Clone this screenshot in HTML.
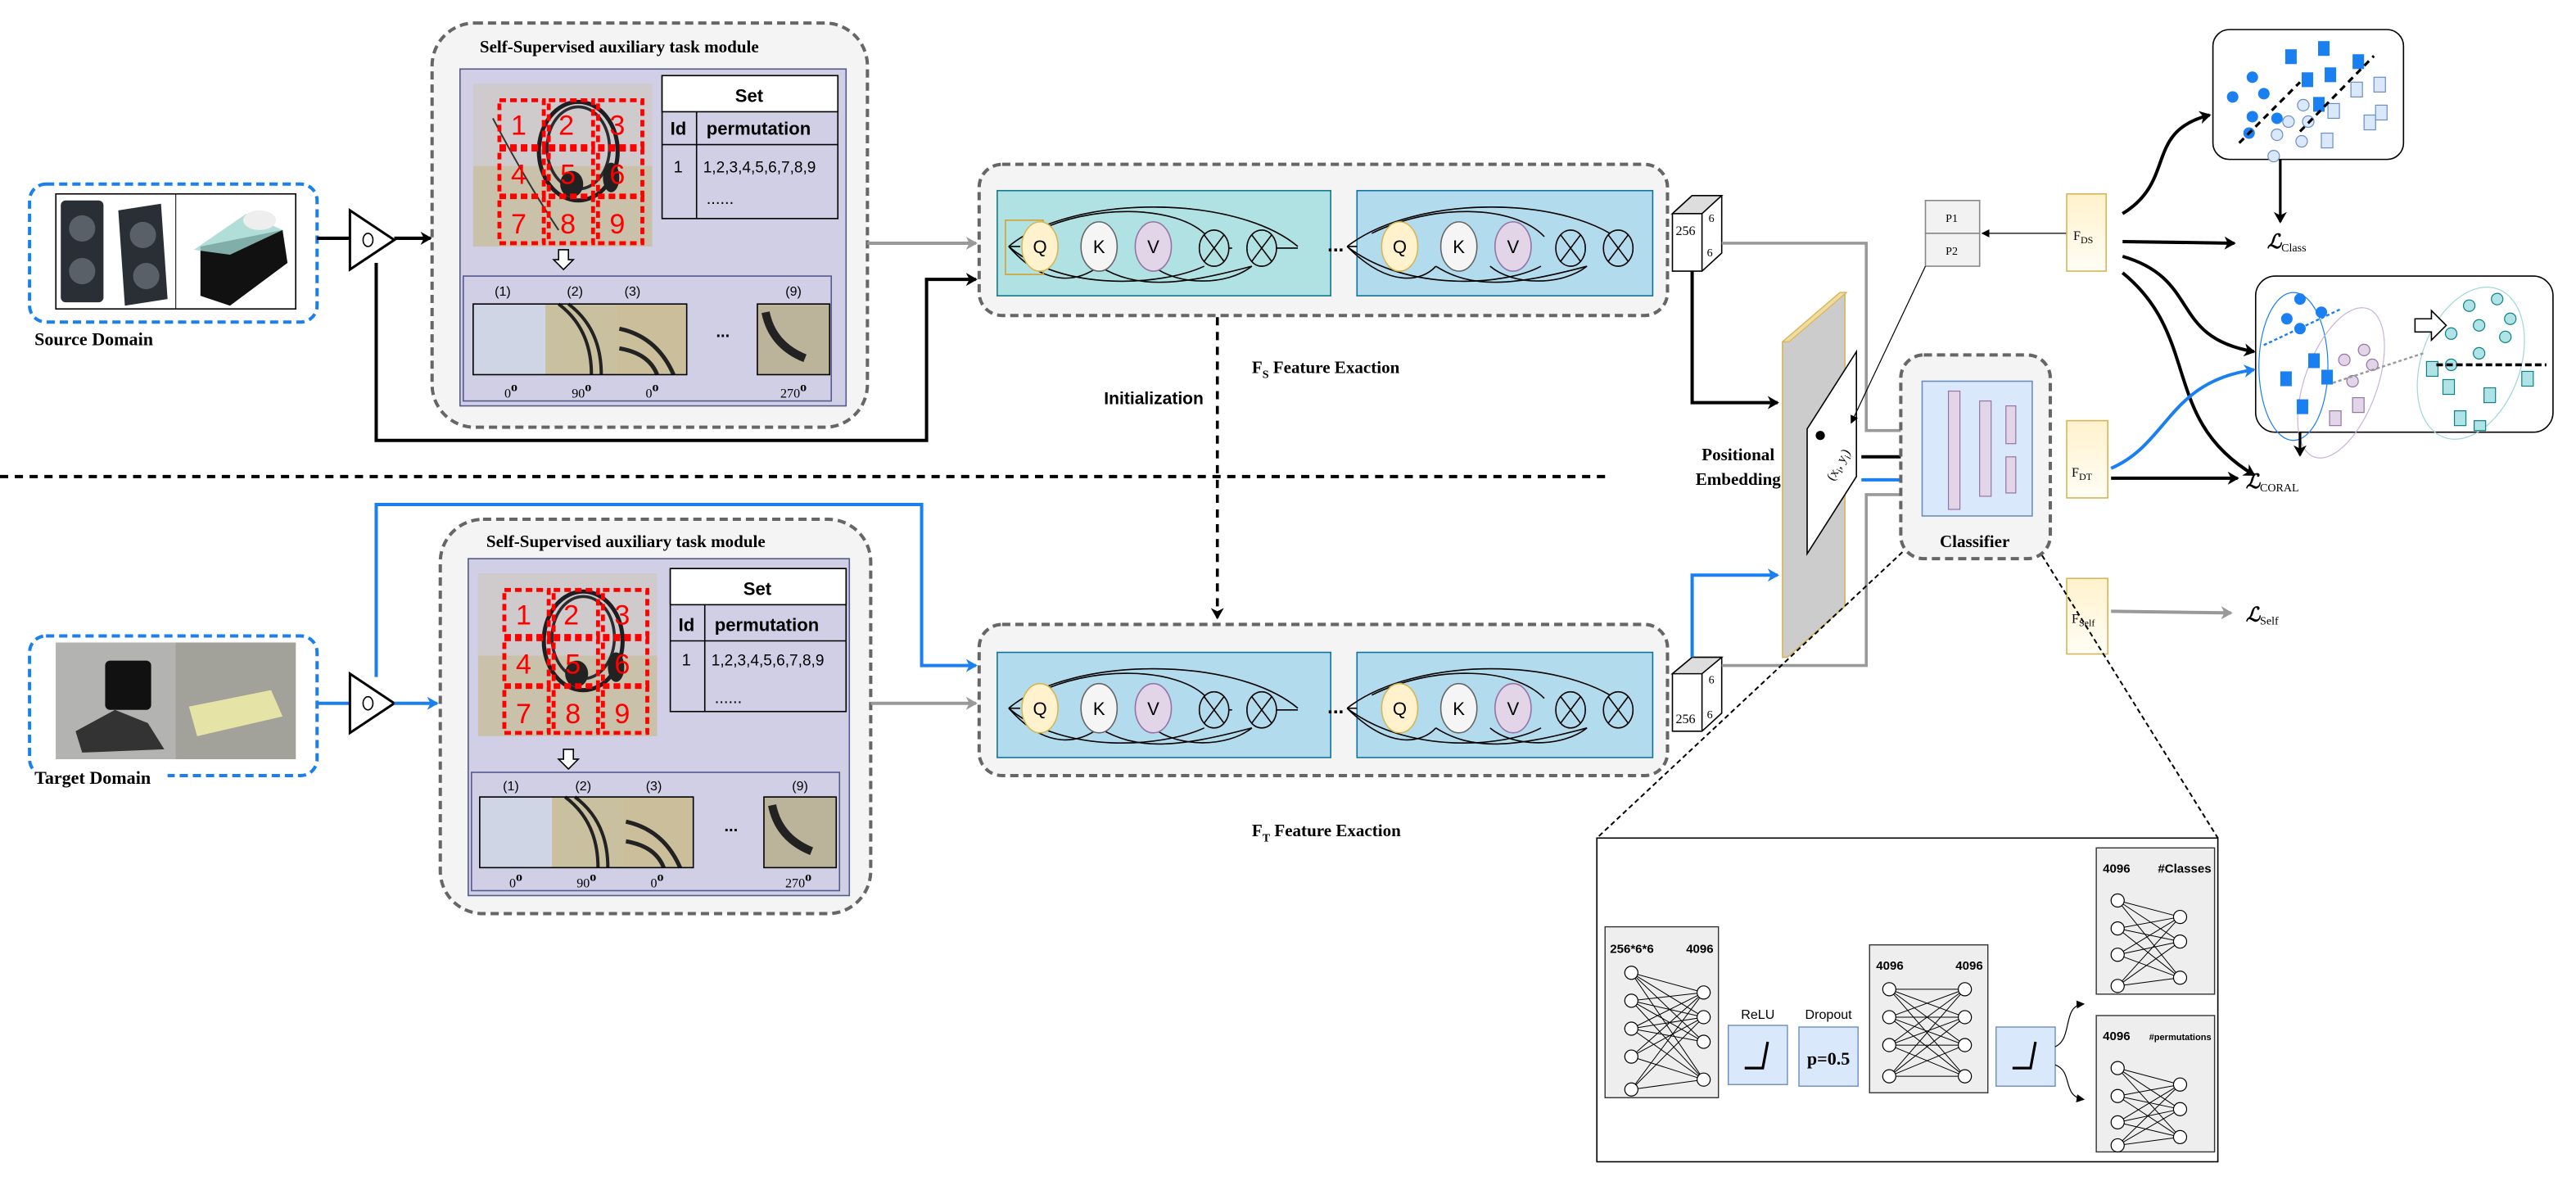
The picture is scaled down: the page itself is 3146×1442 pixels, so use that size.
<!DOCTYPE html>
<html><head><meta charset="utf-8"><style>
html,body{margin:0;padding:0;background:#fff;}
svg{display:block;}
.s{font-family:"Liberation Serif",serif;}
.a{font-family:"Liberation Sans",sans-serif;}
</style></head><body>
<svg width="3146" height="1442" viewBox="0 0 1568 718.7" xmlns="http://www.w3.org/2000/svg">
<defs>
<marker id="ab" markerWidth="8" markerHeight="8" refX="6" refY="4" orient="auto" markerUnits="userSpaceOnUse"><path d="M0,0 L7,4 L0,8 L2,4z" fill="#000"/></marker>
<marker id="ag" markerWidth="8" markerHeight="8" refX="6" refY="4" orient="auto" markerUnits="userSpaceOnUse"><path d="M0,0 L7,4 L0,8 L2,4z" fill="#999"/></marker>
<marker id="abl" markerWidth="8" markerHeight="8" refX="6" refY="4" orient="auto" markerUnits="userSpaceOnUse"><path d="M0,0 L7,4 L0,8 L2,4z" fill="#1a7ff0"/></marker>
<marker id="as" markerWidth="5" markerHeight="5" refX="4" refY="2.5" orient="auto" markerUnits="userSpaceOnUse"><path d="M0,0 L5,2.5 L0,5z" fill="#000"/></marker>
<linearGradient id="yg" x1="0" y1="0" x2="0" y2="1"><stop offset="0" stop-color="#fff2cc"/><stop offset="1" stop-color="#fffdf5"/></linearGradient>
</defs>

<!-- ===== SOURCE DOMAIN ===== -->
<rect x="18" y="112" width="175" height="84" rx="10" fill="none" stroke="#1a7ff0" stroke-width="2" stroke-dasharray="5,3"/>
<rect x="34" y="118" width="146" height="70" fill="#fff" stroke="#000" stroke-width="0.8"/>
<line x1="107" y1="118" x2="107" y2="188" stroke="#000" stroke-width="0.5"/>
<rect x="37" y="122" width="26" height="62" rx="3" fill="#2a2f36"/>
<circle cx="50" cy="139" r="8" fill="#5a6068"/><circle cx="50" cy="165" r="8" fill="#5a6068"/>
<path d="M72,128 L98,124 L102,182 L76,186z" fill="#2a2f36"/>
<circle cx="87" cy="143" r="8" fill="#5a6068"/><circle cx="89" cy="168" r="8" fill="#5a6068"/>
<path d="M122,150 L172,140 L175,160 L140,186 L122,180z" fill="#111"/>
<path d="M118,152 L150,130 L172,140 L140,155z" fill="#9fd6cf" opacity="0.8"/>
<ellipse cx="158" cy="134" rx="10" ry="6" fill="#eee"/>
<rect x="22" y="199" width="88" height="14" fill="#fff"/>
<text x="21" y="210" class="s" font-size="11" font-weight="bold">Source Domain</text>
<line x1="193" y1="145" x2="213" y2="145" stroke="#000" stroke-width="2"/>
<path d="M213,128 L240,146 L213,164z" fill="#fff" stroke="#000" stroke-width="1.5"/>
<ellipse cx="224" cy="146" rx="3" ry="4" fill="none" stroke="#000" stroke-width="0.8"/>
<line x1="240" y1="145" x2="262" y2="145" stroke="#000" stroke-width="2" marker-end="url(#ab)"/>
<polyline points="229,160 229,268 564,268 564,170 594,170" fill="none" stroke="#000" stroke-width="2" marker-end="url(#ab)"/>

<!-- top SSL module -->
<rect x="263" y="14" width="265" height="246" rx="26" fill="#f4f4f4" stroke="#666" stroke-width="2" stroke-dasharray="5,3"/>
<text x="292" y="32" class="s" font-size="10.5" font-weight="bold">Self-Supervised auxiliary task module</text>
<rect x="280" y="42" width="235" height="205" fill="#d0cfe6" stroke="#555a8c" stroke-width="0.8"/>
<g id="img1">
<rect x="288" y="51" width="109" height="99" fill="#c9c1a9"/>
<rect x="288" y="51" width="109" height="50" fill="#d2cfdc" opacity="0.7"/>
<ellipse cx="352" cy="92" rx="24" ry="30" fill="none" stroke="#1e1e22" stroke-width="2.5"/>
<ellipse cx="352" cy="90" rx="19" ry="25" fill="none" stroke="#2b2b30" stroke-width="1.8"/>
<ellipse cx="348" cy="112" rx="7" ry="8" fill="#222"/>
<ellipse cx="372" cy="108" rx="5" ry="9" fill="#222"/>
<path d="M300,72 Q320,110 340,140" stroke="#333" stroke-width="1" fill="none"/>
</g>
<g fill="none" stroke="#f00" stroke-width="2.4" stroke-dasharray="4,2.5">
<rect x="304" y="61" width="27" height="28"/><rect x="334" y="61" width="27" height="28"/><rect x="364" y="61" width="27" height="28"/>
<rect x="304" y="91" width="27" height="28"/><rect x="334" y="91" width="27" height="28"/><rect x="364" y="91" width="27" height="28"/>
<rect x="304" y="120" width="27" height="28"/><rect x="334" y="120" width="27" height="28"/><rect x="364" y="120" width="27" height="28"/>
</g>
<g class="a" font-size="17" fill="#f00">
<text x="311" y="82">1</text><text x="340" y="82">2</text><text x="371" y="82">3</text>
<text x="311" y="112">4</text><text x="341" y="112">5</text><text x="371" y="112">6</text>
<text x="311" y="142">7</text><text x="341" y="142">8</text><text x="371" y="142">9</text>
</g>
<rect x="403" y="46" width="107" height="87" fill="#d0cfe6" stroke="#000" stroke-width="0.8"/>
<rect x="403" y="46" width="107" height="22" fill="#fff" stroke="#000" stroke-width="0.8"/>
<line x1="403" y1="88" x2="510" y2="88" stroke="#000" stroke-width="0.8"/>
<line x1="424" y1="68" x2="424" y2="133" stroke="#000" stroke-width="0.8"/>
<text x="456" y="62" class="a" font-size="11" font-weight="bold" text-anchor="middle">Set</text>
<text x="408" y="82" class="a" font-size="11" font-weight="bold">Id</text>
<text x="430" y="82" class="a" font-size="11" font-weight="bold">permutation</text>
<text x="410" y="105" class="a" font-size="10">1</text>
<text x="428" y="105" class="a" font-size="9.5">1,2,3,4,5,6,7,8,9</text>
<text x="430" y="124" class="a" font-size="10">......</text>
<path d="M340,152 h6 v6 h3 l-6,6 l-6,-6 h3z" fill="#fff" stroke="#000" stroke-width="0.8"/>
<rect x="282" y="168" width="224" height="76" fill="#d0cfe6" stroke="#555a8c" stroke-width="0.8"/>
<g class="a" font-size="8" text-anchor="middle">
<text x="306" y="180">(1)</text><text x="350" y="180">(2)</text><text x="385" y="180">(3)</text><text x="483" y="180">(9)</text>
</g>
<rect x="288" y="185" width="44" height="43" fill="#cfd5e4"/>
<rect x="332" y="185" width="43" height="43" fill="#c9c0a0"/>
<path d="M340,185 Q360,200 360,228 M346,185 Q366,200 366,228" stroke="#222" stroke-width="2" fill="none"/>
<rect x="375" y="185" width="43" height="43" fill="#cbbf9b"/>
<path d="M377,200 Q400,205 410,228 M377,212 Q395,215 400,228" stroke="#222" stroke-width="2.5" fill="none"/>
<rect x="288" y="185" width="130" height="43" fill="none" stroke="#000" stroke-width="0.8"/>
<text x="440" y="205" class="a" font-size="10" font-weight="bold" text-anchor="middle">...</text>
<rect x="461" y="185" width="44" height="43" fill="#bcb49a" stroke="#000" stroke-width="0.8"/>
<path d="M466,190 Q470,210 490,218" stroke="#222" stroke-width="5" fill="none"/>
<g class="s" font-size="8" text-anchor="middle">
<text x="311" y="242">0<tspan dy="-4" font-weight="bold">o</tspan></text>
<text x="354" y="242">90<tspan dy="-4" font-weight="bold">o</tspan></text>
<text x="397" y="242">0<tspan dy="-4" font-weight="bold">o</tspan></text>
<text x="483" y="242">270<tspan dy="-4" font-weight="bold">o</tspan></text>
</g>
<line x1="528" y1="148" x2="594" y2="148" stroke="#999" stroke-width="2" marker-end="url(#ag)"/>

<!-- top transformer -->
<rect x="596" y="100" width="419" height="92" rx="14" fill="#f4f4f4" stroke="#666" stroke-width="2" stroke-dasharray="5,3"/>
<rect x="607" y="116" width="203" height="64" fill="#b0e2e4" stroke="#10798a" stroke-width="0.8"/>
<rect x="826" y="116" width="180" height="64" fill="#b2dcee" stroke="#10739e" stroke-width="0.8"/>
<text x="813" y="153" class="a" font-size="12" font-weight="bold" text-anchor="middle">...</text>
<g transform="translate(607,116)" fill="none" stroke="#000" stroke-width="0.8">
<path d="M7,34 C45,2 145,2 183,34"/><path d="M22,26 C55,8 110,8 128,28"/>
<path d="M7,34 C30,60 50,55 62,46"/><path d="M7,34 C40,62 100,58 126,46"/><path d="M62,46 C85,60 110,58 155,46"/><path d="M95,46 C110,58 140,58 155,46"/>
<line x1="7" y1="34" x2="14" y2="34"/><line x1="139" y1="35" x2="143" y2="35"/><line x1="167" y1="35" x2="183" y2="35"/>
</g>
<rect x="612" y="134" width="23" height="33" fill="none" stroke="#d6a030" stroke-width="0.8"/>
<g transform="translate(826,116)" fill="none" stroke="#000" stroke-width="0.8">
<path d="M-6,34 C35,2 130,2 165,34"/><path d="M9,26 C45,8 95,8 114,28"/>
<path d="M-6,34 C20,60 40,55 48,46"/><path d="M-6,34 C30,62 90,58 112,46"/><path d="M48,46 C70,60 95,58 140,46"/><path d="M81,46 C95,58 125,58 140,46"/>
<line x1="-6" y1="34" x2="0" y2="34"/><line x1="125" y1="35" x2="129" y2="35"/><line x1="153" y1="35" x2="165" y2="35"/>
</g>
<g stroke-width="0.8">
<ellipse cx="633" cy="150" rx="11" ry="15" fill="#fff2cc" stroke="#d6b656"/>
<ellipse cx="669" cy="150" rx="11" ry="15" fill="#f5f5f5" stroke="#666"/>
<ellipse cx="702" cy="150" rx="11" ry="15" fill="#e1d5e7" stroke="#9673a6"/>
<ellipse cx="852" cy="150" rx="11" ry="15" fill="#fff2cc" stroke="#d6b656"/>
<ellipse cx="888" cy="150" rx="11" ry="15" fill="#f5f5f5" stroke="#666"/>
<ellipse cx="921" cy="150" rx="11" ry="15" fill="#e1d5e7" stroke="#9673a6"/>
</g>
<g class="a" font-size="11" text-anchor="middle">
<text x="633" y="154">Q</text><text x="669" y="154">K</text><text x="702" y="154">V</text>
<text x="852" y="154">Q</text><text x="888" y="154">K</text><text x="921" y="154">V</text>
</g>
<g fill="none" stroke="#000" stroke-width="0.8">
<ellipse cx="739" cy="151" rx="9" ry="11" fill="#b0e2e4"/><path d="M733,143 L745,159 M745,143 L733,159"/>
<ellipse cx="768" cy="151" rx="9" ry="11" fill="#b0e2e4"/><path d="M762,143 L774,159 M774,143 L762,159"/>
<ellipse cx="956" cy="151" rx="9" ry="11" fill="#b2dcee"/><path d="M950,143 L962,159 M962,143 L950,159"/>
<ellipse cx="985" cy="151" rx="9" ry="11" fill="#b2dcee"/><path d="M979,143 L991,159 M991,143 L979,159"/>
</g>

<!-- top cube -->
<path d="M1018,130 L1030,119 L1048,119 L1048,154 L1036,165 L1018,165z" fill="#fff" stroke="#000" stroke-width="0.8"/>
<path d="M1018,130 L1030,119 L1048,119 L1036,130z" fill="#ddd" stroke="#000" stroke-width="0.8"/>
<line x1="1036" y1="130" x2="1036" y2="165" stroke="#000" stroke-width="0.8"/>
<text x="1020" y="143" class="s" font-size="8">256</text>
<text x="1040" y="135" class="s" font-size="7">6</text><text x="1039" y="156" class="s" font-size="7">6</text>
<text x="762" y="227" class="s" font-size="10.5" font-weight="bold">F<tspan font-size="7" dy="3">S</tspan><tspan dy="-3"> Feature Exaction</tspan></text>
<text x="672" y="246" class="a" font-size="10.5" font-weight="bold">Initialization</text>
<line x1="741" y1="193" x2="741" y2="376" stroke="#000" stroke-width="1.8" stroke-dasharray="5,4" marker-end="url(#ab)"/>
<line x1="0" y1="290" x2="980" y2="290" stroke="#000" stroke-width="2" stroke-dasharray="5,4"/>

<!-- ===== TARGET DOMAIN ===== -->
<rect x="18" y="387" width="175" height="85" rx="10" fill="none" stroke="#1a7ff0" stroke-width="2" stroke-dasharray="5,3"/>
<rect x="34" y="391" width="146" height="71" fill="#9a9a98"/>
<rect x="34" y="391" width="73" height="71" fill="#b3b4b2"/>
<rect x="64" y="402" width="28" height="30" rx="3" fill="#111"/>
<path d="M46,445 L70,432 L90,440 L100,456 L50,458z" fill="#333"/>
<rect x="107" y="391" width="73" height="71" fill="#a3a29a"/>
<path d="M115,430 L165,420 L172,436 L120,448z" fill="#e5e4a6"/>
<rect x="22" y="466" width="80" height="12" fill="#fff"/>
<text x="21" y="477" class="s" font-size="11" font-weight="bold">Target Domain</text>
<line x1="193" y1="428" x2="213" y2="428" stroke="#1a7ff0" stroke-width="2"/>
<path d="M213,410 L240,428 L213,446z" fill="#fff" stroke="#000" stroke-width="1.5"/>
<ellipse cx="224" cy="428" rx="3" ry="4" fill="none" stroke="#000" stroke-width="0.8"/>
<line x1="240" y1="428" x2="266" y2="428" stroke="#1a7ff0" stroke-width="2" marker-end="url(#abl)"/>
<polyline points="229,412 229,307 561,307 561,405 594,405" fill="none" stroke="#1a7ff0" stroke-width="2" marker-end="url(#abl)"/>

<!-- bottom SSL module -->
<rect x="268" y="316" width="262" height="240" rx="26" fill="#f4f4f4" stroke="#666" stroke-width="2" stroke-dasharray="5,3"/>
<text x="296" y="333" class="s" font-size="10.5" font-weight="bold">Self-Supervised auxiliary task module</text>
<rect x="285" y="340" width="232" height="205" fill="#d0cfe6" stroke="#555a8c" stroke-width="0.8"/>
<g transform="translate(3,298)">
<rect x="288" y="51" width="109" height="99" fill="#c9c1a9"/>
<rect x="288" y="51" width="109" height="50" fill="#d2cfdc" opacity="0.7"/>
<ellipse cx="352" cy="92" rx="24" ry="30" fill="none" stroke="#1e1e22" stroke-width="2.5"/>
<ellipse cx="352" cy="90" rx="19" ry="25" fill="none" stroke="#2b2b30" stroke-width="1.8"/>
<ellipse cx="348" cy="112" rx="7" ry="8" fill="#222"/>
<ellipse cx="372" cy="108" rx="5" ry="9" fill="#222"/>
<g fill="none" stroke="#f00" stroke-width="2.4" stroke-dasharray="4,2.5">
<rect x="304" y="61" width="27" height="28"/><rect x="334" y="61" width="27" height="28"/><rect x="364" y="61" width="27" height="28"/>
<rect x="304" y="91" width="27" height="28"/><rect x="334" y="91" width="27" height="28"/><rect x="364" y="91" width="27" height="28"/>
<rect x="304" y="120" width="27" height="28"/><rect x="334" y="120" width="27" height="28"/><rect x="364" y="120" width="27" height="28"/>
</g>
<g class="a" font-size="17" fill="#f00">
<text x="311" y="82">1</text><text x="340" y="82">2</text><text x="371" y="82">3</text>
<text x="311" y="112">4</text><text x="341" y="112">5</text><text x="371" y="112">6</text>
<text x="311" y="142">7</text><text x="341" y="142">8</text><text x="371" y="142">9</text>
</g>
</g>
<rect x="408" y="346" width="107" height="87" fill="#d0cfe6" stroke="#000" stroke-width="0.8"/>
<rect x="408" y="346" width="107" height="22" fill="#fff" stroke="#000" stroke-width="0.8"/>
<line x1="408" y1="390" x2="515" y2="390" stroke="#000" stroke-width="0.8"/>
<line x1="429" y1="368" x2="429" y2="433" stroke="#000" stroke-width="0.8"/>
<text x="461" y="362" class="a" font-size="11" font-weight="bold" text-anchor="middle">Set</text>
<text x="413" y="384" class="a" font-size="11" font-weight="bold">Id</text>
<text x="435" y="384" class="a" font-size="11" font-weight="bold">permutation</text>
<text x="415" y="405" class="a" font-size="10">1</text>
<text x="433" y="405" class="a" font-size="9.5">1,2,3,4,5,6,7,8,9</text>
<text x="435" y="428" class="a" font-size="10">......</text>
<path d="M343,456 h6 v6 h3 l-6,6 l-6,-6 h3z" fill="#fff" stroke="#000" stroke-width="0.8"/>
<rect x="287" y="470" width="224" height="72" fill="#d0cfe6" stroke="#555a8c" stroke-width="0.8"/>
<g class="a" font-size="8" text-anchor="middle">
<text x="311" y="481">(1)</text><text x="355" y="481">(2)</text><text x="398" y="481">(3)</text><text x="487" y="481">(9)</text>
</g>
<rect x="292" y="485" width="44" height="43" fill="#cfd5e4"/>
<rect x="336" y="485" width="43" height="43" fill="#c9c0a0"/>
<path d="M344,485 Q364,500 364,528 M350,485 Q370,500 370,528" stroke="#222" stroke-width="2" fill="none"/>
<rect x="379" y="485" width="43" height="43" fill="#cbbf9b"/>
<path d="M381,500 Q404,505 414,528 M381,512 Q399,515 404,528" stroke="#222" stroke-width="2.5" fill="none"/>
<rect x="292" y="485" width="130" height="43" fill="none" stroke="#000" stroke-width="0.8"/>
<text x="445" y="506" class="a" font-size="10" font-weight="bold" text-anchor="middle">...</text>
<rect x="465" y="485" width="44" height="43" fill="#bcb49a" stroke="#000" stroke-width="0.8"/>
<path d="M470,490 Q474,510 494,518" stroke="#222" stroke-width="5" fill="none"/>
<g class="s" font-size="8" text-anchor="middle">
<text x="314" y="540">0<tspan dy="-4" font-weight="bold">o</tspan></text>
<text x="357" y="540">90<tspan dy="-4" font-weight="bold">o</tspan></text>
<text x="400" y="540">0<tspan dy="-4" font-weight="bold">o</tspan></text>
<text x="486" y="540">270<tspan dy="-4" font-weight="bold">o</tspan></text>
</g>
<line x1="530" y1="428" x2="594" y2="428" stroke="#999" stroke-width="2" marker-end="url(#ag)"/>

<!-- bottom transformer -->
<rect x="596" y="380" width="419" height="92" rx="14" fill="#f4f4f4" stroke="#666" stroke-width="2" stroke-dasharray="5,3"/>
<rect x="607" y="397" width="203" height="64" fill="#b2dcee" stroke="#10739e" stroke-width="0.8"/>
<rect x="826" y="397" width="180" height="64" fill="#b2dcee" stroke="#10739e" stroke-width="0.8"/>
<text x="813" y="434" class="a" font-size="12" font-weight="bold" text-anchor="middle">...</text>
<g transform="translate(607,397)" fill="none" stroke="#000" stroke-width="0.8">
<path d="M7,34 C45,2 145,2 183,34"/><path d="M22,26 C55,8 110,8 128,28"/>
<path d="M7,34 C30,60 50,55 62,46"/><path d="M7,34 C40,62 100,58 126,46"/><path d="M62,46 C85,60 110,58 155,46"/><path d="M95,46 C110,58 140,58 155,46"/>
<line x1="7" y1="34" x2="14" y2="34"/><line x1="139" y1="35" x2="143" y2="35"/><line x1="167" y1="35" x2="183" y2="35"/>
</g>
<g transform="translate(826,397)" fill="none" stroke="#000" stroke-width="0.8">
<path d="M-6,34 C35,2 130,2 165,34"/><path d="M9,26 C45,8 95,8 114,28"/>
<path d="M-6,34 C20,60 40,55 48,46"/><path d="M-6,34 C30,62 90,58 112,46"/><path d="M48,46 C70,60 95,58 140,46"/><path d="M81,46 C95,58 125,58 140,46"/>
<line x1="-6" y1="34" x2="0" y2="34"/><line x1="125" y1="35" x2="129" y2="35"/><line x1="153" y1="35" x2="165" y2="35"/>
</g>
<g stroke-width="0.8">
<ellipse cx="633" cy="431" rx="11" ry="15" fill="#fff2cc" stroke="#d6b656"/>
<ellipse cx="669" cy="431" rx="11" ry="15" fill="#f5f5f5" stroke="#666"/>
<ellipse cx="702" cy="431" rx="11" ry="15" fill="#e1d5e7" stroke="#9673a6"/>
<ellipse cx="852" cy="431" rx="11" ry="15" fill="#fff2cc" stroke="#d6b656"/>
<ellipse cx="888" cy="431" rx="11" ry="15" fill="#f5f5f5" stroke="#666"/>
<ellipse cx="921" cy="431" rx="11" ry="15" fill="#e1d5e7" stroke="#9673a6"/>
</g>
<g class="a" font-size="11" text-anchor="middle">
<text x="633" y="435">Q</text><text x="669" y="435">K</text><text x="702" y="435">V</text>
<text x="852" y="435">Q</text><text x="888" y="435">K</text><text x="921" y="435">V</text>
</g>
<g fill="none" stroke="#000" stroke-width="0.8">
<ellipse cx="739" cy="432" rx="9" ry="11" fill="#b2dcee"/><path d="M733,424 L745,440 M745,424 L733,440"/>
<ellipse cx="768" cy="432" rx="9" ry="11" fill="#b2dcee"/><path d="M762,424 L774,440 M774,424 L762,440"/>
<ellipse cx="956" cy="432" rx="9" ry="11" fill="#b2dcee"/><path d="M950,424 L962,440 M962,424 L950,440"/>
<ellipse cx="985" cy="432" rx="9" ry="11" fill="#b2dcee"/><path d="M979,424 L991,440 M991,424 L979,440"/>
</g>
<!-- bottom cube -->
<path d="M1018,410 L1030,400 L1048,400 L1048,434 L1036,445 L1018,445z" fill="#fff" stroke="#000" stroke-width="0.8"/>
<path d="M1018,410 L1030,400 L1048,400 L1036,410z" fill="#ddd" stroke="#000" stroke-width="0.8"/>
<line x1="1036" y1="410" x2="1036" y2="445" stroke="#000" stroke-width="0.8"/>
<text x="1020" y="440" class="s" font-size="8">256</text>
<text x="1040" y="416" class="s" font-size="7">6</text><text x="1039" y="437" class="s" font-size="7">6</text>
<text x="762" y="509" class="s" font-size="10.5" font-weight="bold">F<tspan font-size="7" dy="3">T</tspan><tspan dy="-3"> Feature Exaction</tspan></text>

<!-- ===== RIGHT SIDE ===== -->
<polyline points="1048,148 1136,148 1136,262 1168,262" fill="none" stroke="#999" stroke-width="1.8" marker-end="url(#ag)"/>
<polyline points="1048,405 1136,405 1136,301 1168,301" fill="none" stroke="#999" stroke-width="1.8" marker-end="url(#ag)"/>
<polyline points="1030,165 1030,245 1082,245" fill="none" stroke="#000" stroke-width="2" marker-end="url(#ab)"/>
<polyline points="1030,400 1030,350 1082,350" fill="none" stroke="#1a7ff0" stroke-width="2" marker-end="url(#abl)"/>
<path d="M1085,208 L1120,178 L1123,178 L1123,369 L1088,400 L1085,400z" fill="#ccc" stroke="#d6b656" stroke-width="0.8"/>
<path d="M1085,208 L1120,178 L1124,178 L1089,208z" fill="#f0dca0" stroke="#d6b656" stroke-width="0.6"/>
<path d="M1100,261 L1130,214 L1130,290 L1100,337z" fill="#fff" stroke="#000" stroke-width="0.8"/>
<circle cx="1108" cy="265" r="2.8" fill="#000"/>
<text x="1116" y="293" class="s" font-size="8" transform="rotate(-60 1116 293)">(x<tspan font-size="6" dy="2">i</tspan><tspan dy="-2">, y</tspan><tspan font-size="6" dy="2">i</tspan><tspan dy="-2">)</tspan></text>
<text x="1058" y="280" class="s" font-size="10.5" font-weight="bold" text-anchor="middle">Positional</text>
<text x="1058" y="295" class="s" font-size="10.5" font-weight="bold" text-anchor="middle">Embedding</text>
<line x1="1133" y1="278" x2="1168" y2="278" stroke="#000" stroke-width="2" marker-end="url(#ab)"/>
<line x1="1133" y1="292" x2="1168" y2="292" stroke="#1a7ff0" stroke-width="2" marker-end="url(#abl)"/>
<rect x="1172" y="122" width="33" height="20" fill="#f2f2f2" stroke="#888" stroke-width="0.8"/>
<rect x="1172" y="142" width="33" height="20" fill="#f2f2f2" stroke="#888" stroke-width="0.8"/>
<text x="1188" y="135" class="s" font-size="7" text-anchor="middle">P1</text>
<text x="1188" y="155" class="s" font-size="7" text-anchor="middle">P2</text>
<line x1="1172" y1="162" x2="1127" y2="257" stroke="#000" stroke-width="0.6" marker-end="url(#as)"/>
<line x1="1258" y1="142" x2="1207" y2="142" stroke="#000" stroke-width="0.6" marker-end="url(#as)"/>
<rect x="1157" y="216" width="91" height="124" rx="14" fill="#f4f4f4" stroke="#666" stroke-width="2" stroke-dasharray="5,3"/>
<rect x="1170" y="232" width="67" height="82" fill="#dae8fc" stroke="#6c8ebf" stroke-width="0.8"/>
<rect x="1186" y="238" width="7" height="72" fill="#e1d5e7" stroke="#9673a6" stroke-width="0.6"/>
<rect x="1205" y="244" width="7" height="58" fill="#e1d5e7" stroke="#9673a6" stroke-width="0.6"/>
<rect x="1221" y="247" width="6" height="23" fill="#e1d5e7" stroke="#9673a6" stroke-width="0.6"/>
<rect x="1221" y="278" width="6" height="22" fill="#e1d5e7" stroke="#9673a6" stroke-width="0.6"/>
<text x="1202" y="333" class="s" font-size="10.5" font-weight="bold" text-anchor="middle">Classifier</text>
<rect x="1258" y="118" width="24" height="47" fill="url(#yg)" stroke="#d6b656" stroke-width="0.8"/>
<text x="1262" y="146" class="s" font-size="8">F<tspan font-size="6" dy="2">DS</tspan></text>
<rect x="1258" y="256" width="25" height="47" fill="url(#yg)" stroke="#d6b656" stroke-width="0.8"/>
<text x="1261" y="290" class="s" font-size="8">F<tspan font-size="6" dy="2">DT</tspan></text>
<rect x="1258" y="352" width="25" height="46" fill="url(#yg)" stroke="#d6b656" stroke-width="0.8"/>
<text x="1261" y="379" class="s" font-size="8">F<tspan font-size="6" dy="2">Self</tspan></text>
<!-- class plot -->
<rect x="1347" y="18" width="116" height="79" rx="10" fill="#fff" stroke="#000" stroke-width="0.8"/>
<g fill="#1a7ff0">
<rect x="1391" y="30" width="7" height="9"/><rect x="1411" y="25" width="7" height="9"/><rect x="1401" y="44" width="7" height="9"/><rect x="1415" y="41" width="7" height="9"/><rect x="1432" y="33" width="7" height="9"/><rect x="1408" y="59" width="7" height="9"/>
<circle cx="1359" cy="59" r="3.5"/><circle cx="1371" cy="47" r="3.5"/><circle cx="1378" cy="57" r="3.5"/><circle cx="1371" cy="71" r="3.5"/><circle cx="1386" cy="72" r="3.5"/>
<circle cx="1369" cy="81" r="3.5"/>
</g>
<g fill="#dae8fc" stroke="#6c8ebf" stroke-width="0.6">
<circle cx="1386" cy="82" r="3.5"/><circle cx="1393" cy="74" r="3.5"/><circle cx="1402" cy="64" r="3.5"/><circle cx="1405" cy="74" r="3.5"/><circle cx="1401" cy="86" r="3.5"/><circle cx="1384" cy="95" r="3.5"/>
<rect x="1417" y="63" width="7" height="9"/><rect x="1431" y="50" width="7" height="9"/><rect x="1445" y="47" width="7" height="9"/><rect x="1439" y="70" width="7" height="9"/><rect x="1446" y="64" width="7" height="9"/><rect x="1413" y="81" width="7" height="9"/>
</g>
<line x1="1363" y1="87" x2="1400" y2="50" stroke="#000" stroke-width="1.6" stroke-dasharray="4,3"/>
<line x1="1400" y1="80" x2="1445" y2="34" stroke="#000" stroke-width="1.6" stroke-dasharray="4,3"/>
<line x1="1388" y1="97" x2="1388" y2="135" stroke="#000" stroke-width="1.6" marker-end="url(#ab)"/>
<text x="1380" y="151" class="s" font-size="12" font-style="italic" font-weight="bold">ℒ<tspan font-size="7" font-weight="normal" font-style="normal" dy="2">Class</tspan></text>
<!-- CORAL plot -->
<rect x="1373" y="168" width="181" height="95" rx="12" fill="#fff" stroke="#000" stroke-width="0.8"/>
<ellipse cx="1396" cy="223" rx="21" ry="45" fill="none" stroke="#1a7ff0" stroke-width="0.6"/>
<ellipse cx="1425" cy="233" rx="22" ry="48" fill="none" stroke="#c8b4d8" stroke-width="0.6" transform="rotate(20 1425 233)"/>
<ellipse cx="1504" cy="221" rx="30" ry="48" fill="none" stroke="#9ed8d8" stroke-width="0.6" transform="rotate(20 1504 221)"/>
<g fill="#1a7ff0">
<circle cx="1400" cy="182" r="3.5"/><circle cx="1392" cy="194" r="3.5"/><circle cx="1413" cy="190" r="3.5"/><circle cx="1400" cy="200" r="3.5"/>
<rect x="1405" y="215" width="7" height="9"/><rect x="1388" y="226" width="7" height="9"/><rect x="1413" y="225" width="7" height="9"/><rect x="1398" y="243" width="7" height="9"/>
</g>
<g fill="#e1d5e7" stroke="#9673a6" stroke-width="0.6">
<circle cx="1427" cy="219" r="3.5"/><circle cx="1439" cy="213" r="3.5"/><circle cx="1444" cy="222" r="3.5"/><circle cx="1432" cy="232" r="3.5"/>
<rect x="1432" y="242" width="7" height="9"/><rect x="1418" y="250" width="7" height="9"/><rect x="1428" y="258" width="7" height="0"/>
</g>
<g fill="#b0e3e6" stroke="#0e8088" stroke-width="0.6">
<circle cx="1503" cy="186" r="3.5"/><circle cx="1520" cy="182" r="3.5"/><circle cx="1528" cy="194" r="3.5"/><circle cx="1509" cy="198" r="3.5"/><circle cx="1492" cy="203" r="3.5"/><circle cx="1525" cy="205" r="3.5"/><circle cx="1509" cy="215" r="3.5"/><circle cx="1492" cy="222" r="3.5"/>
<rect x="1477" y="220" width="7" height="9"/><rect x="1487" y="231" width="7" height="9"/><rect x="1512" y="236" width="7" height="9"/><rect x="1535" y="226" width="7" height="9"/><rect x="1494" y="250" width="7" height="9"/><rect x="1506" y="256" width="7" height="6"/>
</g>
<line x1="1378" y1="210" x2="1425" y2="188" stroke="#1a7ff0" stroke-width="1.2" stroke-dasharray="2,1.5"/>
<line x1="1420" y1="233" x2="1475" y2="215" stroke="#999" stroke-width="1.2" stroke-dasharray="2,1.5"/>
<line x1="1483" y1="222" x2="1550" y2="222" stroke="#000" stroke-width="1.8" stroke-dasharray="4,2"/>
<path d="M1470,194 h10 v-5 l9,9 l-9,9 v-5 h-10z" fill="#fff" stroke="#000" stroke-width="0.8"/>
<line x1="1400" y1="263" x2="1400" y2="277" stroke="#000" stroke-width="1.6" marker-end="url(#ab)"/>
<text x="1367" y="297" class="s" font-size="12" font-style="italic" font-weight="bold">ℒ<tspan font-size="7" font-weight="normal" font-style="normal" dy="2">CORAL</tspan></text>
<text x="1367" y="378" class="s" font-size="12" font-style="italic" font-weight="bold">ℒ<tspan font-size="7" font-weight="normal" font-style="normal" dy="2">Self</tspan></text>
<path d="M1292,130 C1325,110 1305,80 1345,70" fill="none" stroke="#000" stroke-width="2" marker-end="url(#ab)"/>
<line x1="1292" y1="147" x2="1360" y2="148" stroke="#000" stroke-width="2" marker-end="url(#ab)"/>
<path d="M1292,156 C1340,170 1320,205 1372,214" fill="none" stroke="#000" stroke-width="2" marker-end="url(#ab)"/>
<path d="M1292,166 C1340,205 1315,255 1372,289" fill="none" stroke="#000" stroke-width="2" marker-end="url(#ab)"/>
<path d="M1285,285 C1320,270 1320,232 1372,225" fill="none" stroke="#1a7ff0" stroke-width="2" marker-end="url(#abl)"/>
<line x1="1285" y1="291" x2="1362" y2="291" stroke="#000" stroke-width="2" marker-end="url(#ab)"/>
<line x1="1285" y1="372" x2="1358" y2="373" stroke="#999" stroke-width="2" marker-end="url(#ag)"/>
<line x1="1158" y1="336" x2="972" y2="510" stroke="#000" stroke-width="1" stroke-dasharray="3,2"/>
<line x1="1243" y1="338" x2="1350" y2="510" stroke="#000" stroke-width="1" stroke-dasharray="3,2"/>

<!-- ===== DETAIL BOX ===== -->
<rect x="972" y="510" width="378" height="197" fill="#fff" stroke="#000" stroke-width="0.8"/>
<rect x="977" y="564" width="69" height="104" fill="#eee" stroke="#333" stroke-width="0.7"/>
<text x="980" y="580" class="a" font-size="7.5" font-weight="bold">256*6*6</text>
<text x="1043" y="580" class="a" font-size="7.5" font-weight="bold" text-anchor="end">4096</text>
<g fill="none" stroke="#000" stroke-width="0.5">
<path d="M993,592 L1037,604 M993,592 L1037,619 M993,592 L1037,634 M993,592 L1037,657 M993,609 L1037,604 M993,609 L1037,634 M993,609 L1037,657 M993,626 L1037,604 M993,626 L1037,619 M993,626 L1037,634 M993,643 L1037,604 M993,643 L1037,619 M993,643 L1037,657 M993,663 L1037,604 M993,663 L1037,619 M993,663 L1037,657 M993,609 L1037,619 M993,626 L1037,657"/>
</g>
<g fill="#fff" stroke="#000" stroke-width="0.6">
<circle cx="993" cy="592" r="4"/><circle cx="993" cy="609" r="4"/><circle cx="993" cy="626" r="4"/><circle cx="993" cy="643" r="4"/><circle cx="993" cy="663" r="4"/>
<circle cx="1037" cy="604" r="4"/><circle cx="1037" cy="619" r="4"/><circle cx="1037" cy="634" r="4"/><circle cx="1037" cy="657" r="4"/>
</g>
<text x="1070" y="620" class="a" font-size="8" text-anchor="middle">ReLU</text>
<text x="1113" y="620" class="a" font-size="8" text-anchor="middle">Dropout</text>
<rect x="1052" y="624" width="36" height="36" fill="#dae8fc" stroke="#6c8ebf" stroke-width="0.7"/>
<path d="M1062,650 L1073,650 L1076,634" fill="none" stroke="#000" stroke-width="1.6"/>
<rect x="1095" y="625" width="36" height="36" fill="#dae8fc" stroke="#6c8ebf" stroke-width="0.7"/>
<text x="1113" y="648" class="s" font-size="11" font-weight="bold" text-anchor="middle">p=0.5</text>
<rect x="1138" y="575" width="72" height="90" fill="#eee" stroke="#333" stroke-width="0.7"/>
<text x="1142" y="590" class="a" font-size="7.5" font-weight="bold">4096</text>
<text x="1207" y="590" class="a" font-size="7.5" font-weight="bold" text-anchor="end">4096</text>
<g fill="none" stroke="#000" stroke-width="0.5">
<path d="M1150,602 L1196,602 M1150,602 L1196,619 M1150,602 L1196,636 M1150,602 L1196,655 M1150,619 L1196,602 M1150,619 L1196,619 M1150,619 L1196,636 M1150,619 L1196,655 M1150,636 L1196,602 M1150,636 L1196,619 M1150,636 L1196,636 M1150,636 L1196,655 M1150,655 L1196,602 M1150,655 L1196,619 M1150,655 L1196,636 M1150,655 L1196,655"/>
</g>
<g fill="#fff" stroke="#000" stroke-width="0.6">
<circle cx="1150" cy="602" r="4"/><circle cx="1150" cy="619" r="4"/><circle cx="1150" cy="636" r="4"/><circle cx="1150" cy="655" r="4"/>
<circle cx="1196" cy="602" r="4"/><circle cx="1196" cy="619" r="4"/><circle cx="1196" cy="636" r="4"/><circle cx="1196" cy="655" r="4"/>
</g>
<rect x="1215" y="625" width="36" height="36" fill="#dae8fc" stroke="#6c8ebf" stroke-width="0.7"/>
<path d="M1225,650 L1236,650 L1239,634" fill="none" stroke="#000" stroke-width="1.6"/>
<path d="M1251,637 C1262,632 1255,612 1268,611" fill="none" stroke="#000" stroke-width="0.6" marker-end="url(#as)"/>
<path d="M1251,648 C1262,652 1255,667 1268,669" fill="none" stroke="#000" stroke-width="0.6" marker-end="url(#as)"/>
<rect x="1276" y="516" width="72" height="89" fill="#eee" stroke="#333" stroke-width="0.7"/>
<text x="1280" y="531" class="a" font-size="7.5" font-weight="bold">4096</text>
<text x="1346" y="531" class="a" font-size="7.5" font-weight="bold" text-anchor="end">#Classes</text>
<rect x="1276" y="618" width="72" height="83" fill="#eee" stroke="#333" stroke-width="0.7"/>
<text x="1280" y="633" class="a" font-size="7.5" font-weight="bold">4096</text>
<text x="1346" y="633" class="a" font-size="5.5" font-weight="bold" text-anchor="end">#permutations</text>
<g fill="none" stroke="#000" stroke-width="0.5">
<path d="M1289,548 L1327,558 M1289,548 L1327,573 M1289,548 L1327,595 M1289,565 L1327,558 M1289,565 L1327,573 M1289,565 L1327,595 M1289,581 L1327,558 M1289,581 L1327,573 M1289,581 L1327,595 M1289,600 L1327,558 M1289,600 L1327,573 M1289,600 L1327,595"/>
<path d="M1289,650 L1327,660 M1289,650 L1327,675 M1289,650 L1327,692 M1289,667 L1327,660 M1289,667 L1327,675 M1289,667 L1327,692 M1289,683 L1327,660 M1289,683 L1327,675 M1289,683 L1327,692 M1289,697 L1327,660 M1289,697 L1327,675 M1289,697 L1327,692"/>
</g>
<g fill="#fff" stroke="#000" stroke-width="0.6">
<circle cx="1289" cy="548" r="4"/><circle cx="1289" cy="565" r="4"/><circle cx="1289" cy="581" r="4"/><circle cx="1289" cy="600" r="4"/>
<circle cx="1327" cy="558" r="4"/><circle cx="1327" cy="573" r="4"/><circle cx="1327" cy="595" r="4"/>
<circle cx="1289" cy="650" r="4"/><circle cx="1289" cy="667" r="4"/><circle cx="1289" cy="683" r="4"/><circle cx="1289" cy="697" r="4"/>
<circle cx="1327" cy="660" r="4"/><circle cx="1327" cy="675" r="4"/><circle cx="1327" cy="692" r="4"/>
</g>
</svg>
</body></html>
